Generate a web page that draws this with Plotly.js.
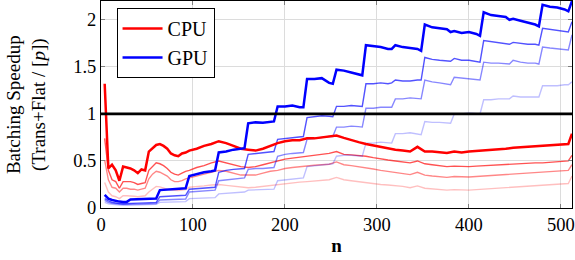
<!DOCTYPE html>
<html><head><meta charset="utf-8">
<script src="https://cdn.plot.ly/plotly-3.0.1.min.js"></script>
<style>html,body{margin:0;padding:0;background:#fff}#chart{width:575px;height:260px}</style>
</head><body><div id="chart"></div>
<script>
// ---- data ----
const nGPU = [4,8,12,16,20,24,28,32,40,48,56,60,64,72,80,88,92,96,104,112,120,124,128,136,144,152,156,160,168,176,184,188,192,200,208,216,220,224,232,240,248,252,256,264,272,280,284,288,296,304,312,316,320,328,336,344,348,352,360,368,376,380,384,392,400,408,412,416,424,432,440,444,448,456,464,472,476,480,488,496,504,508,512];
const gpu1 = [0.14,0.10,0.085,0.075,0.068,0.065,0.065,0.09,0.092,0.095,0.1,0.1,0.19,0.195,0.2,0.205,0.21,0.34,0.36,0.38,0.39,0.40,0.59,0.60,0.62,0.63,0.635,0.90,0.91,0.905,0.92,0.92,1.08,1.08,1.09,1.07,1.07,1.37,1.37,1.38,1.33,1.32,1.47,1.46,1.44,1.42,1.41,1.73,1.72,1.71,1.69,1.69,1.73,1.71,1.70,1.69,1.67,1.95,1.92,1.91,1.90,1.87,1.88,1.86,1.87,1.85,1.83,2.08,2.05,2.04,2.03,2.0,2.01,1.99,1.97,1.95,1.93,2.16,2.14,2.13,2.11,2.09,2.2];
const gpu2 = [0.10,0.075,0.06,0.052,0.048,0.045,0.045,0.05,0.052,0.055,0.058,0.06,0.12,0.125,0.13,0.135,0.135,0.20,0.205,0.21,0.215,0.22,0.38,0.40,0.41,0.42,0.42,0.57,0.58,0.59,0.60,0.60,0.73,0.74,0.75,0.755,0.76,0.96,0.97,0.98,0.975,0.97,1.08,1.08,1.09,1.08,1.08,1.32,1.32,1.33,1.32,1.33,1.36,1.35,1.35,1.36,1.36,1.60,1.58,1.57,1.56,1.56,1.59,1.57,1.57,1.56,1.55,1.78,1.77,1.76,1.75,1.74,1.76,1.75,1.74,1.74,1.73,1.91,1.90,1.89,1.88,1.87,1.98];
const gpu3 = [0.08,0.06,0.05,0.045,0.04,0.038,0.038,0.04,0.042,0.044,0.046,0.048,0.085,0.088,0.09,0.092,0.095,0.17,0.175,0.18,0.185,0.19,0.29,0.30,0.31,0.315,0.32,0.41,0.42,0.42,0.43,0.43,0.55,0.57,0.58,0.585,0.59,0.73,0.74,0.755,0.76,0.76,0.86,0.86,0.87,0.865,0.86,1.06,1.06,1.07,1.07,1.07,1.16,1.16,1.17,1.16,1.16,1.36,1.34,1.33,1.32,1.31,1.39,1.38,1.37,1.36,1.36,1.55,1.54,1.54,1.53,1.53,1.57,1.55,1.54,1.54,1.53,1.71,1.70,1.69,1.68,1.68,1.84];
const gpu4 = [0.06,0.045,0.04,0.035,0.032,0.03,0.03,0.032,0.034,0.036,0.038,0.04,0.06,0.062,0.064,0.066,0.068,0.10,0.102,0.105,0.108,0.11,0.15,0.155,0.16,0.165,0.17,0.19,0.195,0.20,0.20,0.20,0.29,0.30,0.31,0.315,0.32,0.44,0.45,0.46,0.47,0.47,0.55,0.56,0.56,0.555,0.55,0.69,0.69,0.70,0.695,0.69,0.79,0.79,0.80,0.79,0.78,0.92,0.91,0.91,0.905,0.90,1.0,1.0,1.01,1.0,1.0,1.15,1.15,1.16,1.16,1.16,1.19,1.18,1.18,1.18,1.18,1.30,1.30,1.30,1.31,1.31,1.34];

const nCPU = [4,8,12,16,20,24,28,32,36,40,44,48,52,56,60,64,68,72,76,80,84,88,92,96,104,112,120,128,136,144,152,160,168,176,184,192,200,208,216,224,232,240,248,256,264,272,280,288,296,304,312,320,328,336,344,352,360,368,376,384,392,400,408,416,424,432,440,448,456,464,472,480,488,496,504,508,512];
const cpu1 = [1.32,0.42,0.46,0.40,0.29,0.44,0.43,0.42,0.40,0.37,0.41,0.40,0.60,0.63,0.67,0.68,0.66,0.63,0.58,0.56,0.55,0.58,0.59,0.61,0.63,0.66,0.68,0.71,0.69,0.66,0.63,0.62,0.61,0.63,0.66,0.69,0.71,0.72,0.72,0.74,0.74,0.75,0.76,0.77,0.745,0.72,0.70,0.68,0.665,0.645,0.63,0.62,0.61,0.60,0.65,0.60,0.60,0.595,0.585,0.60,0.59,0.60,0.605,0.615,0.62,0.625,0.63,0.64,0.645,0.65,0.655,0.66,0.665,0.665,0.67,0.68,0.79];
const cpu2 = [0.74,0.40,0.30,0.28,0.21,0.28,0.28,0.28,0.27,0.25,0.26,0.27,0.40,0.44,0.48,0.47,0.45,0.42,0.38,0.36,0.35,0.37,0.39,0.40,0.43,0.45,0.48,0.50,0.48,0.46,0.44,0.43,0.44,0.46,0.48,0.50,0.52,0.53,0.54,0.55,0.56,0.57,0.58,0.60,0.57,0.565,0.56,0.55,0.535,0.52,0.51,0.50,0.49,0.48,0.50,0.47,0.46,0.45,0.44,0.445,0.44,0.44,0.445,0.45,0.455,0.46,0.46,0.465,0.47,0.475,0.48,0.48,0.485,0.49,0.49,0.50,0.56];
const cpu3 = [0.51,0.30,0.22,0.21,0.17,0.21,0.21,0.20,0.20,0.19,0.20,0.21,0.31,0.36,0.39,0.38,0.36,0.34,0.30,0.28,0.28,0.29,0.31,0.32,0.34,0.36,0.38,0.40,0.39,0.37,0.35,0.35,0.35,0.37,0.39,0.40,0.42,0.43,0.44,0.45,0.455,0.46,0.465,0.49,0.46,0.45,0.44,0.425,0.415,0.40,0.39,0.38,0.37,0.355,0.38,0.35,0.34,0.335,0.325,0.335,0.33,0.33,0.335,0.34,0.345,0.35,0.355,0.36,0.365,0.37,0.37,0.375,0.38,0.385,0.39,0.40,0.46];
const cpu4 = [0.27,0.17,0.13,0.12,0.10,0.13,0.13,0.13,0.125,0.12,0.125,0.13,0.17,0.20,0.23,0.225,0.21,0.20,0.19,0.185,0.185,0.19,0.195,0.22,0.225,0.235,0.245,0.25,0.24,0.23,0.22,0.215,0.22,0.23,0.24,0.25,0.26,0.27,0.275,0.28,0.285,0.29,0.30,0.325,0.30,0.29,0.28,0.265,0.26,0.25,0.245,0.24,0.23,0.215,0.235,0.21,0.205,0.20,0.19,0.195,0.19,0.19,0.195,0.20,0.205,0.21,0.21,0.215,0.22,0.225,0.23,0.235,0.24,0.245,0.25,0.26,0.34];

const baseline = 1;
const xTicks = [0,100,200,300,400,500];
const yTicks = [0,0.5,1,1.5,2];
const yTickText = ['0','0.5','1','1.5','2'];

// ---- plot ----
const FONT = 'Liberation Serif, Times New Roman, serif';
function tr(x, y, color, width, name, show) {
  return {x: x, y: y, type: 'scatter', mode: 'lines', name: name, showlegend: show,
          line: {color: color, width: width}, hoverinfo: 'skip'};
}
const data = [
  tr(nCPU, cpu4, 'rgba(255,0,0,0.25)', 1.4, 'CPU4', false),
  tr(nCPU, cpu3, 'rgba(255,0,0,0.47)', 1.4, 'CPU3', false),
  tr(nCPU, cpu2, 'rgba(255,0,0,0.68)', 1.4, 'CPU2', false),
  tr(nGPU, gpu4, 'rgba(0,0,255,0.25)', 1.4, 'GPU4', false),
  tr(nGPU, gpu3, 'rgba(0,0,255,0.47)', 1.4, 'GPU3', false),
  tr(nGPU, gpu2, 'rgba(0,0,255,0.68)', 1.4, 'GPU2', false),
  tr(nCPU, cpu1, '#ff0000', 2.5, 'CPU', true),
  tr(nGPU, gpu1, '#0000ff', 2.5, 'GPU', true)
];
const axisCommon = {
  showline: true, linecolor: '#000', linewidth: 1, mirror: 'ticks',
  ticks: 'inside', ticklen: 4, tickcolor: '#7f7f7f', tickwidth: 1,
  showgrid: true, gridcolor: '#dcdcdc', gridwidth: 1, zeroline: false,
  ticklabeloverflow: 'allow',
  tickfont: {family: FONT, size: 18.5, color: '#000'}
};
const layout = {
  width: 575, height: 260,
  margin: {l: 101, r: 3, t: 1, b: 52},
  paper_bgcolor: '#fff', plot_bgcolor: '#fff',
  font: {family: FONT, size: 19, color: '#000'},
  xaxis: Object.assign({}, axisCommon, {
    range: [0, 512], tickvals: xTicks,
    title: {text: '<b>n</b>', font: {family: FONT, size: 19}, standoff: 4}
  }),
  yaxis: Object.assign({}, axisCommon, {
    range: [0, 2.2], tickvals: yTicks, ticktext: yTickText
  }),
  annotations: [{
    text: 'Batching Speedup<br>(Trans+Flat / [<i>p</i>])', textangle: -90,
    xref: 'paper', yref: 'paper', x: -0.158, y: 0.5, xanchor: 'center', yanchor: 'middle',
    showarrow: false, font: {family: FONT, size: 19, color: '#000'}
  }],
  legend: {
    x: 0.033, y: 0.966, xanchor: 'left', yanchor: 'top',
    bgcolor: '#fff', bordercolor: '#000', borderwidth: 1,
    itemwidth: 40, tracegroupgap: 0,
    font: {family: FONT, size: 20, color: '#000'}
  },
  shapes: [{type: 'line', xref: 'paper', x0: 0, x1: 1, yref: 'y', y0: baseline, y1: baseline,
            line: {color: '#000', width: 2.6}, layer: 'above'}]
};
Plotly.newPlot('chart', data, layout, {displayModeBar: false, staticPlot: true});
</script>
</body></html>
